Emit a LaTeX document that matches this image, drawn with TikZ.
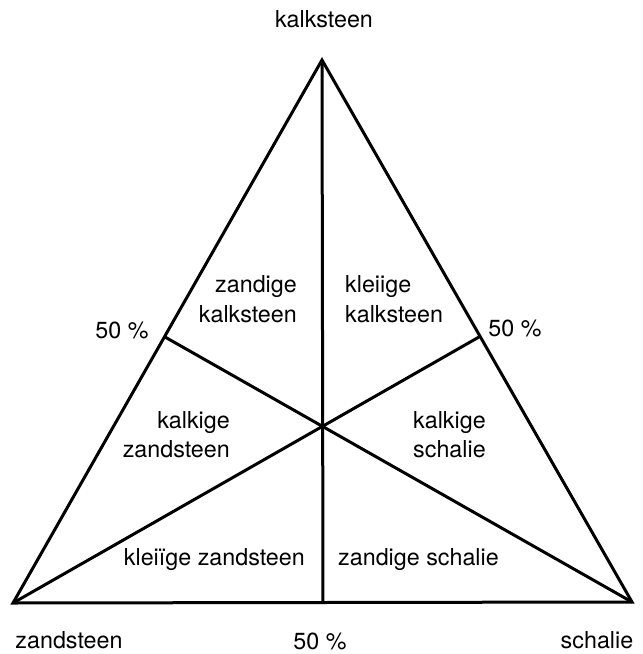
\documentclass[tikz,border=0pt]{standalone}
\usepackage{fontspec}
\setmainfont{TeX Gyre Heros}
\begin{document}
\begin{tikzpicture}[x=1pt,y=-1pt,
  lbl/.style={inner sep=0pt,font=\fontsize{23.3}{28}\selectfont},
  edge/.style={line width=3pt,line join=miter}]
\useasboundingbox (0,0) rectangle (643,654);
\coordinate (A) at (322,60);
\coordinate (B) at (13,603);
\coordinate (C) at (632,602);
\coordinate (L) at (165,337);
\coordinate (R) at (479,337);
\coordinate (M) at (323,602.5);
\draw[edge] (A) -- (B) -- (C) -- cycle;
\draw[edge] (A) -- (M);
\draw[edge] (L) -- (C);
\draw[edge] (R) -- (B);
% corner labels
\node[lbl,anchor=base] (kalk) at (324,27) {kalksteen};
\node[lbl,anchor=base] (zand) at (69,648) {zandsteen};
\node[lbl,anchor=base] (schal) at (597,648) {schalie};
\node[lbl,anchor=base] (pb) at (320,649) {50 \%};
\node[lbl,anchor=base] (pl) at (122,338) {50 \%};
\node[lbl,anchor=base] (pr) at (515,336) {50 \%};
% region labels
\node[lbl,anchor=base east] (zk1) at (297,292) {zandige};
\node[lbl,anchor=base east] (zk2) at (297,322) {kalksteen};
\node[lbl,anchor=base west] (kk1) at (345,292) {kleiige};
\node[lbl,anchor=base west] (kk2) at (345,322) {kalksteen};
\node[lbl,anchor=base east] (kz1) at (230,428) {kalkige};
\node[lbl,anchor=base east] (kz2) at (230,457) {zandsteen};
\node[lbl,anchor=base west] (ks1) at (413,428) {kalkige};
\node[lbl,anchor=base west] (ks2) at (413,457) {schalie};
\node[lbl,anchor=base east] (klz) at (305,565) {kleiïge zandsteen};
\node[lbl,anchor=base west] (zs) at (338,565) {zandige schalie};
\end{tikzpicture}
\end{document}
